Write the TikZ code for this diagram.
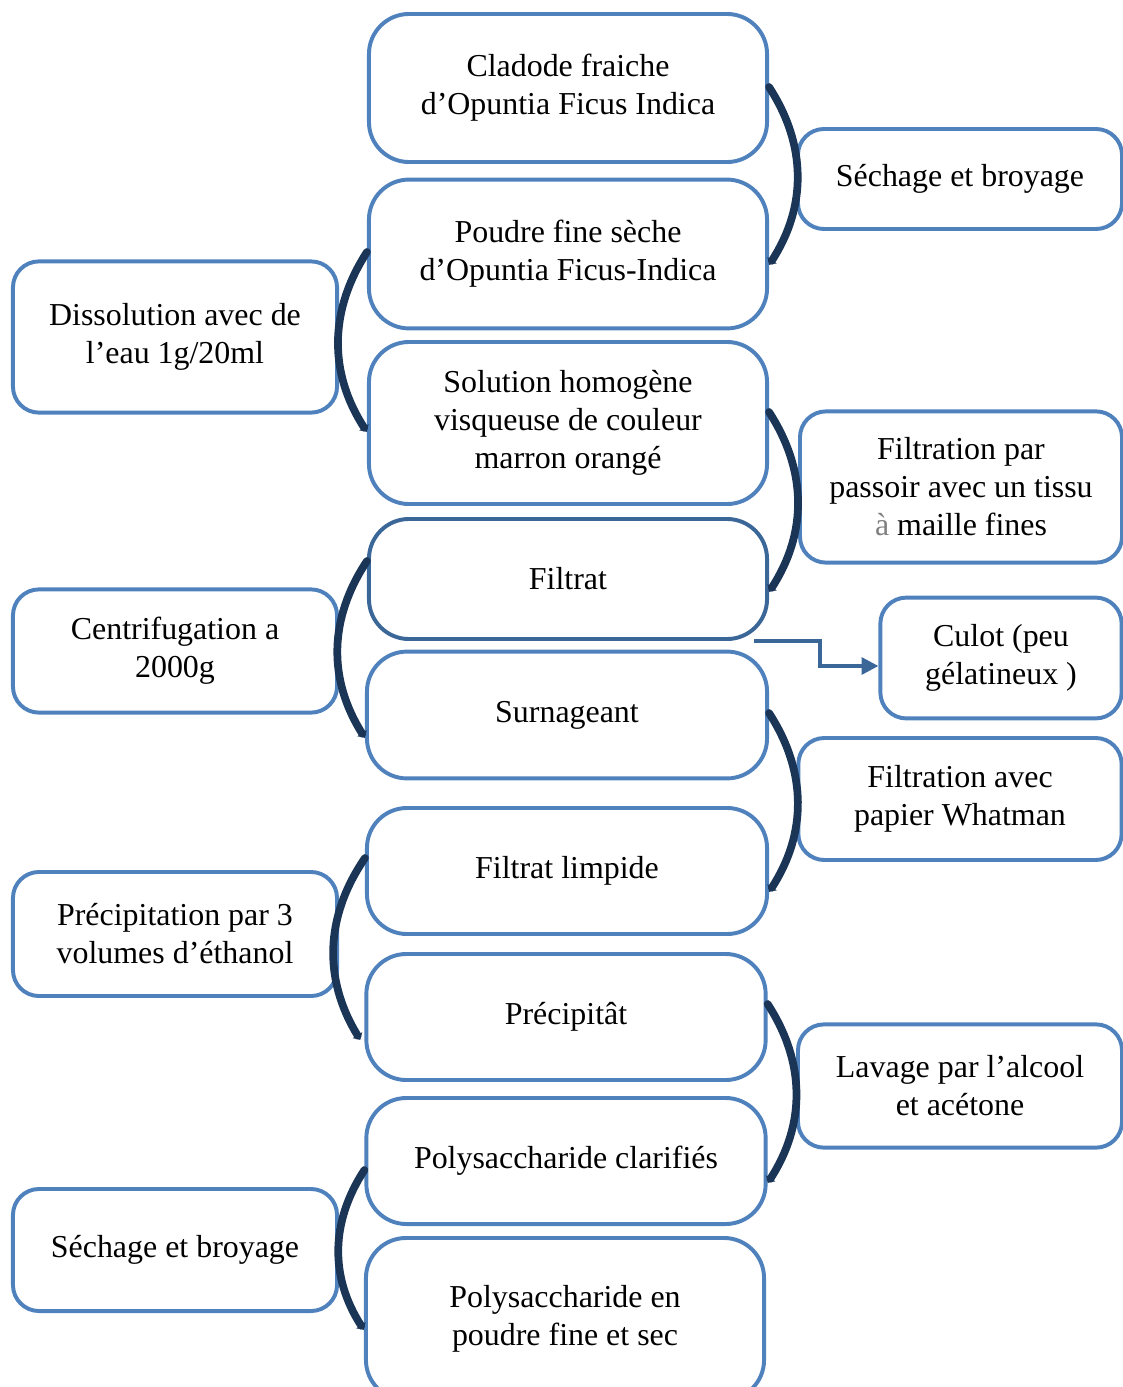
\documentclass[tikz,border=0pt]{standalone}
\usepackage{fontspec}
\setmainfont{Liberation Serif}
\usetikzlibrary{arrows.meta,calc}
\definecolor{boxblue}{HTML}{4F81BD}
\definecolor{darkblue}{HTML}{3A6698}
\definecolor{navy}{HTML}{1B3556}

\begin{document}
\begin{tikzpicture}[
    x=0.025cm, y=-0.025cm,
    every node/.style={font=\fontsize{22.7}{27}\selectfont},
    stepbox/.style={rectangle, rounded corners=1cm, draw=boxblue, line width=2.8pt, fill=white, minimum width=9.95cm, align=center},
    sidebox/.style={rectangle, rounded corners=0.65cm, draw=boxblue, line width=2.8pt, fill=white, minimum width=8.1cm, align=center},
    arc/.style={draw=navy, line width=5.5pt, line cap=round, -{Latex[length=4pt,width=9pt]}},
    elbow/.style={draw=darkblue, line width=2.6pt, -{Triangle[length=12pt,width=12pt]}}
]
\useasboundingbox (0,0) rectangle (1123,1387);

% central column
\node[stepbox, minimum height=3.7cm] (cladode) at (568,88) {Cladode fraiche\\d’Opuntia Ficus Indica};
\node[stepbox, minimum height=3.72cm] (poudre) at (568,254) {Poudre fine sèche\\d’Opuntia Ficus-Indica};
\node[stepbox, minimum height=4.05cm] (solution) at (568,423) {Solution homogène\\visqueuse de couleur\\marron orangé};
\node[stepbox, minimum height=3cm, draw=darkblue] (filtrat) at (568,579) {Filtrat};
\node[stepbox, minimum height=3.17cm, minimum width=10cm] (surnageant) at (567,715) {Surnageant};
\node[stepbox, minimum height=3.15cm, minimum width=10cm] (limpide) at (567,871) {Filtrat limpide};
\node[stepbox, minimum height=3.15cm, minimum width=9.98cm] (precipitat) at (566,1017) {Précipitât};
\node[stepbox, minimum height=3.15cm, minimum width=9.98cm] (clarifies) at (566,1161) {Polysaccharide clarifiés};
\node[stepbox, minimum height=4.05cm, minimum width=9.95cm] (poudresec) at (565,1319) {Polysaccharide en\\poudre fine et sec};

% right column
\node[sidebox, minimum height=2.5cm] (sechage) at (960,179) {Séchage et broyage};
\node[sidebox, minimum height=3.78cm, minimum width=8.05cm] (passoir) at (961,487) {Filtration par\\passoir avec un tissu\\{\color{gray}à} maille fines};
\node[sidebox, minimum height=3.02cm, minimum width=6.03cm] (culot) at (1001,658) {Culot (peu\\gélatineux )};
\node[sidebox, minimum height=3.05cm, minimum width=8.08cm] (whatman) at (960,799) {Filtration avec\\papier Whatman};
\node[sidebox, minimum height=3.08cm, minimum width=8.1cm] (lavage) at (960,1086) {Lavage par l’alcool\\et acétone};

% left column
\node[sidebox, minimum height=3.78cm] (dissolution) at (175,337) {Dissolution avec de\\l’eau 1g/20ml};
\node[sidebox, minimum height=3.08cm] (centrif) at (175,651) {Centrifugation a\\2000g};
\node[sidebox, minimum height=3.1cm] (precipitation) at (175,934) {Précipitation par 3\\volumes d’éthanol};
\node[sidebox, minimum height=3.05cm] (sechage2) at (175,1250) {Séchage et broyage};

% curved arrows
\draw[arc] ($(cladode.east)+(0,-1)$) to[bend left=33] ($(poudre.east)+(0,11)$);
\draw[arc] ($(poudre.west)+(0,-2)$) to[bend right=33] ($(solution.west)+(0,9)$);
\draw[arc] ($(solution.east)+(0,-11)$) to[bend left=33] ($(filtrat.east)+(0,13)$);
\draw[arc] ($(filtrat.west)+(0,-18)$) to[bend right=33] ($(surnageant.west)+(0,23)$);
\draw[arc] ($(surnageant.east)+(0,-2)$) to[bend left=33] ($(limpide.east)+(0,21)$);
\draw[arc] ($(limpide.west)+(0,-13)$) to[bend right=33] ($(precipitat.west)+(-4,23)$);
\draw[arc] ($(precipitat.east)+(0,-13)$) to[bend left=33] ($(clarifies.east)+(0,22)$);
\draw[arc] ($(clarifies.west)+(0,9)$) to[bend right=33] ($(poudresec.west)+(0,11)$);

% culot
\draw[elbow] ($(filtrat.south east)+(-15,0)$) -- ++(66,0) |- ($(culot.west)+(0,8)$);

\end{tikzpicture}
\end{document}
